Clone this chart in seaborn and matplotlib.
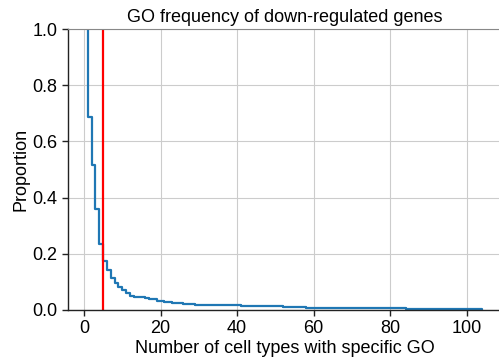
import numpy as np
import pandas as pd
import seaborn as sns
import matplotlib
matplotlib.use("Agg")
import matplotlib.pyplot as plt

# Number of cell types in which each GO term is found, and how many GO terms share that count
n_cell_types = [1, 2, 3, 4, 5, 6, 7, 8, 9, 10, 11, 12, 13, 14, 16, 17, 19,
                21, 23, 26, 29, 41, 46, 52, 58, 84, 104]
go_term_counts = [125, 69, 62, 50, 24, 13, 11, 8, 5, 5, 4, 4, 1, 1, 1, 2, 2,
                  2, 1, 2, 1, 1, 1, 1, 1, 2, 1]
cutoff = 5

df = pd.DataFrame({"n": np.repeat(n_cell_types, go_term_counts)})

sns.set_style("whitegrid")
plt.rcParams["font.family"] = ["Liberation Sans", "DejaVu Sans"]
plt.rcParams["axes.edgecolor"] = "#222222"
plt.rcParams["grid.color"] = "#cccccc"
plt.rcParams["text.color"] = "black"
plt.rcParams["axes.labelcolor"] = "black"
plt.rcParams["xtick.color"] = "black"
plt.rcParams["ytick.color"] = "black"

fig = plt.figure(figsize=(4.99, 3.62), dpi=100)
ax = fig.add_axes([68 / 499, 1 - 310 / 362, (502 - 68) / 499, (310 - 29) / 362])

sns.ecdfplot(data=df, x="n", complementary=True, ax=ax, color="#1f77b4", linewidth=1.6)
ax.axvline(cutoff, color="red", linewidth=1.6)

ax.set_ylim(0, 1)
ax.set_title("GO frequency of down-regulated genes", fontsize=13, pad=5)
ax.set_xlabel("Number of cell types with specific GO", fontsize=13, labelpad=2)
ax.set_ylabel("Proportion", fontsize=13, labelpad=2)
ax.tick_params(axis="both", labelsize=13, length=4, width=1, color="#222222",
               direction="out", bottom=True, left=True)
ax.spines["top"].set_color("#888888")
for s in ["left", "bottom"]:
    ax.spines[s].set_linewidth(1)

fig.savefig("out.png", dpi=100)
